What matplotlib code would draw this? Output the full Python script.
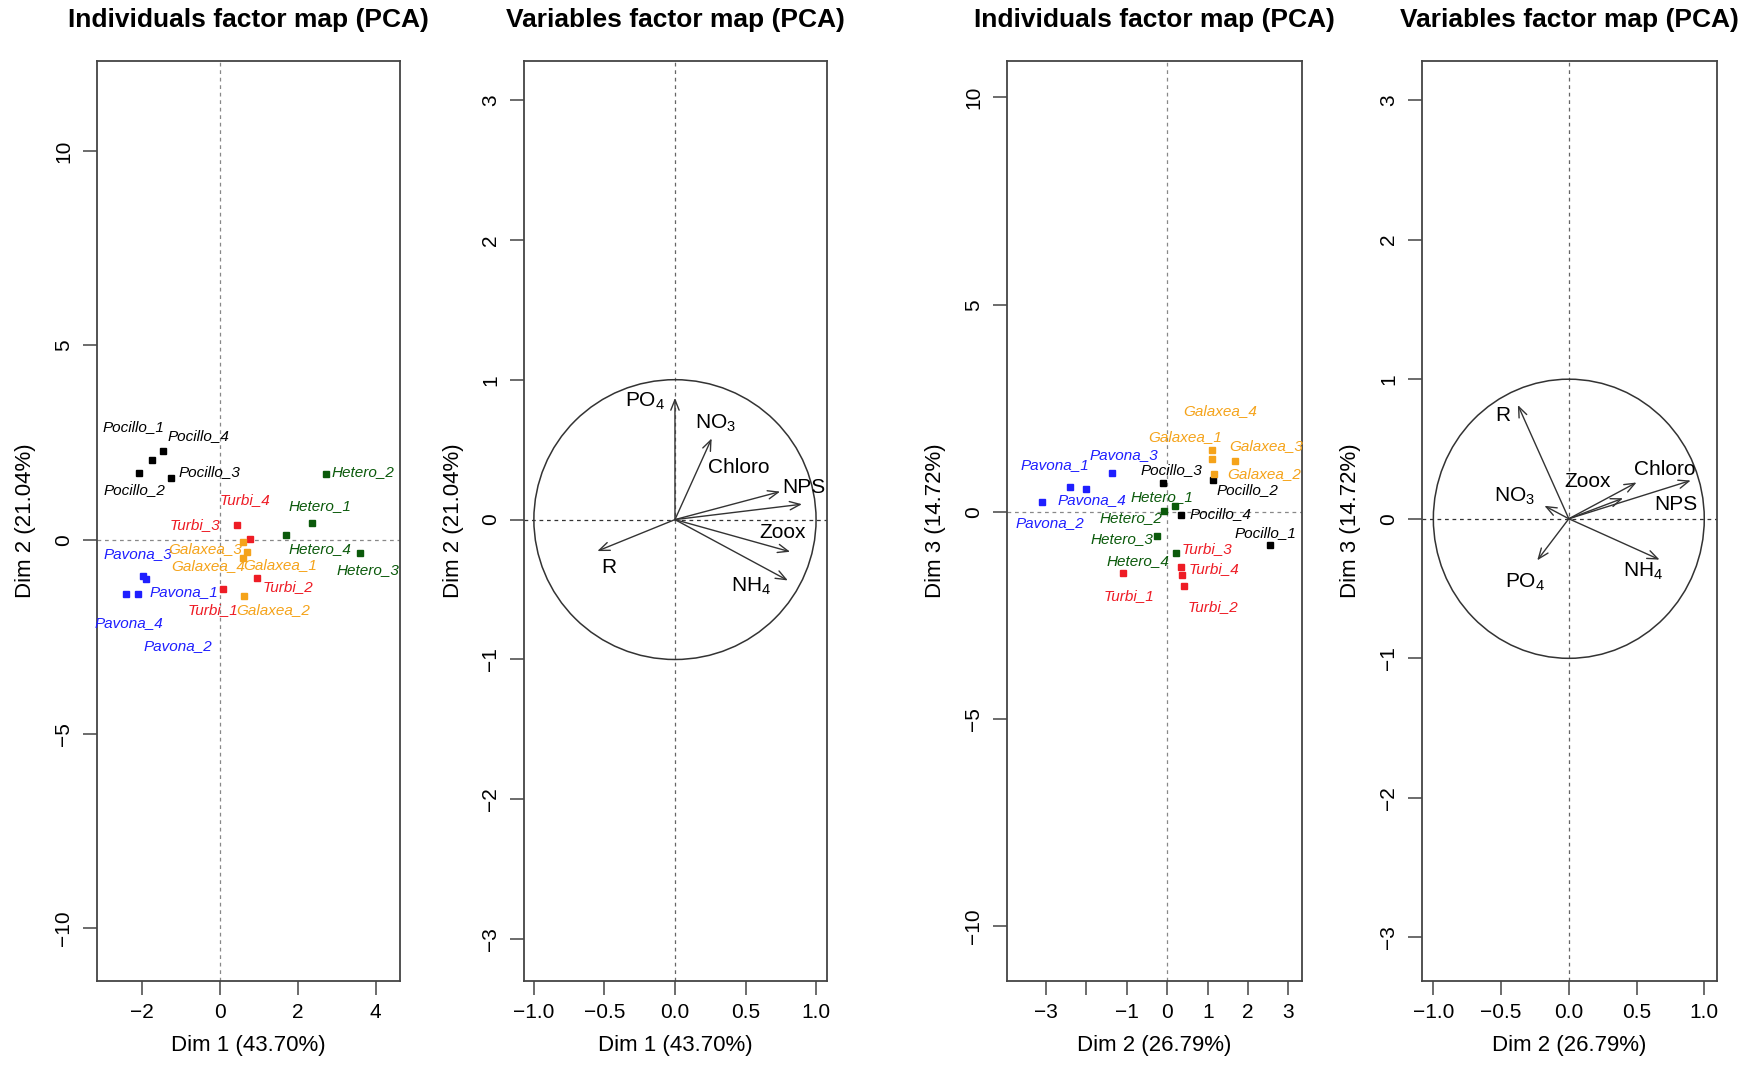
import matplotlib
matplotlib.use("Agg")
from matplotlib import pyplot as plt
from matplotlib.patches import Circle

plt.rcParams['font.family'] = ['Liberation Sans', 'DejaVu Sans']
plt.rcParams['mathtext.default'] = 'regular'

# ---- individuals (order: Pavona, Pocillo, Turbi, Galaxea, Hetero) ----
ind_names = ["Pavona_1", "Pavona_2", "Pavona_3", "Pavona_4",
             "Pocillo_1", "Pocillo_2", "Pocillo_3", "Pocillo_4",
             "Turbi_1", "Turbi_2", "Turbi_3", "Turbi_4",
             "Galaxea_1", "Galaxea_2", "Galaxea_3", "Galaxea_4",
             "Hetero_1", "Hetero_2", "Hetero_3", "Hetero_4"]
ind_group = [n.split("_")[0] for n in ind_names]

# PCA 1 : Dim 1 / Dim 2
pca1_dim1 = [-1.90, -2.10, -1.97, -2.42, -1.76, -2.08, -1.26, -1.47,
             0.09, 0.94, 0.43, 0.77, 0.70, 0.62, 0.60, 0.60,
             2.36, 2.73, 3.60, 1.70]
pca1_dim2 = [-1.02, -1.41, -0.93, -1.41, 2.05, 1.72, 1.60, 2.29,
             -1.28, -0.98, 0.37, 0.03, -0.31, -1.45, -0.06, -0.48,
             0.44, 1.69, -0.33, 0.12]
pca1_lab_x = [-0.94, -1.07, -2.10, -2.33, -2.23, -2.21, -0.28, -0.56,
              -0.19, 1.76, -0.64, 0.64, 1.56, 1.36, -0.39, -0.30,
              2.57, 3.69, 3.80, 2.57]
pca1_lab_y = [-1.34, -2.73, -0.37, -2.14, 2.89, 1.27, 1.73, 2.67,
              -1.80, -1.21, 0.37, 1.02, -0.66, -1.80, -0.23, -0.68,
              0.86, 1.73, -0.77, -0.25]

# PCA 2 : Dim 2 / Dim 3
pca2_dim2 = [-2.40, -3.09, -1.36, -2.01, 2.55, 1.13, -0.11, 0.35,
             -1.09, 0.41, 0.35, 0.37, 1.10, 1.16, 1.68, 1.10,
             0.18, -0.07, -0.25, 0.22]
pca2_dim3 = [0.61, 0.25, 0.93, 0.56, -0.80, 0.77, 0.71, -0.07,
             -1.48, -1.78, -1.34, -1.53, 1.27, 0.91, 1.23, 1.49,
             0.14, 0.02, -0.58, -1.00]
pca2_lab_x = [-2.77, -2.90, -1.08, -1.86, 2.44, 1.99, 0.10, 1.32,
              -0.95, 1.13, 0.99, 1.16, 0.45, 2.40, 2.45, 1.31,
              -0.12, -0.91, -1.12, -0.73]
pca2_lab_y = [1.13, -0.26, 1.37, 0.28, -0.52, 0.52, 1.00, -0.06,
              -2.02, -2.30, -0.90, -1.38, 1.81, 0.91, 1.58, 2.43,
              0.37, -0.14, -0.66, -1.18]

# ---- variables ----
var_names = ["PO$_4$", "NO$_3$", "Chloro", "NPS", "Zoox", "NH$_4$", "R"]
var1_x = [0.00, 0.26, 0.90, 0.745, 0.816, 0.80, -0.55]
var1_y = [0.87, 0.58, 0.11, 0.20, -0.23, -0.435, -0.225]
var1_lab_x = [-0.21, 0.29, 0.45, 0.915, 0.76, 0.54, -0.47]
var1_lab_y = [0.845, 0.69, 0.37, 0.227, -0.095, -0.476, -0.345]

var2_x = [-0.233, -0.18, 0.90, 0.50, 0.40, 0.67, -0.376]
var2_y = [-0.298, 0.093, 0.274, 0.26, 0.147, -0.293, 0.815]
var2_lab_x = [-0.32, -0.40, 0.706, 0.79, 0.14, 0.55, -0.487]
var2_lab_y = [-0.453, 0.16, 0.35, 0.10, 0.267, -0.38, 0.743]

group_colors = {"Pavona": "#1f1fff", "Pocillo": "black", "Turbi": "#ee1c25",
                "Galaxea": "#f5a31a", "Hetero": "#0b5a0b"}

W, H = 1741, 1066
fig = plt.figure(figsize=(W / 100, H / 100), dpi=100)


def make_axes(left, right, top=61, bottom=980.7):
    ax = fig.add_axes([left / W, 1 - bottom / H, (right - left) / W, (bottom - top) / H])
    for s in ax.spines.values():
        s.set_color("#444444")
        s.set_linewidth(1.3)
    ax.tick_params(labelsize=15, length=10, width=1.1, color="#444444", pad=6)
    ax.tick_params(axis='y', labelrotation=90, pad=7)
    return ax


def finish(ax, title, xlabel, ylabel):
    bb = ax.get_position()
    fig.text(bb.x0 + bb.width / 2, 1 - 20 / H, title, ha='center', va='center',
             fontsize=19, fontweight='bold')
    fig.text(bb.x0 + bb.width / 2, 1 - 1046 / H, xlabel, ha='center', va='center', fontsize=16)
    fig.text(bb.x0 - 71 / W, bb.y0 + bb.height / 2, ylabel, ha='center', va='center',
             rotation=90, fontsize=16)
    for lab in ax.get_yticklabels():
        lab.set_va('center')


def individuals(ax, xs, ys, lx, ly):
    ax.axhline(0, color="#888888", lw=0.9, ls=(0, (3, 3)), zorder=0)
    ax.axvline(0, color="#888888", lw=0.9, ls=(0, (3, 3)), zorder=0)
    for n, g, x, y, tx, ty in zip(ind_names, ind_group, xs, ys, lx, ly):
        c = group_colors[g]
        ax.plot(x, y, 's', ms=5, color=c)
        ax.text(tx, ty, n, color=c, fontsize=11, style='italic', ha='center', va='center')


def variables(ax, xs, ys, lx, ly):
    ax.axhline(0, color="#333333", lw=0.9, ls=(0, (3, 3)), zorder=0)
    ax.axvline(0, color="#666666", lw=0.9, ls=(0, (3, 3)), zorder=0)
    ax.add_patch(Circle((0, 0), 1, fill=False, lw=1.1, color="#333333"))
    for n, x, y, tx, ty in zip(var_names, xs, ys, lx, ly):
        ax.annotate("", xy=(x, y), xytext=(0, 0),
                    arrowprops=dict(arrowstyle="->,head_length=0.5,head_width=0.2",
                                    lw=1.0, color="#333333", shrinkA=0, shrinkB=0,
                                    mutation_scale=15))
        ax.text(tx, ty, n, fontsize=15, ha='center', va='center')


# panel 1
ax1 = make_axes(96.7, 400)
individuals(ax1, pca1_dim1, pca1_dim2, pca1_lab_x, pca1_lab_y)
ax1.set_xlim(-3.17, 4.63)
ax1.set_ylim(-11.35, 12.32)
ax1.set_xticks([-2, 0, 2, 4])
ax1.set_yticks([-10, -5, 0, 5, 10])
finish(ax1, "Individuals factor map (PCA)", "Dim 1 (43.70%)", "Dim 2 (21.04%)")

# panel 2
ax2 = make_axes(524, 826.5)
variables(ax2, var1_x, var1_y, var1_lab_x, var1_lab_y)
ax2.set_xlim(-1.07, 1.074)
ax2.set_ylim(-3.296, 3.278)
ax2.set_xticks([-1, -0.5, 0, 0.5, 1])
ax2.set_xticklabels(["\u22121.0", "\u22120.5", "0.0", "0.5", "1.0"])
ax2.set_yticks([-3, -2, -1, 0, 1, 2, 3])
finish(ax2, "Variables factor map (PCA)", "Dim 1 (43.70%)", "Dim 2 (21.04%)")

# panel 3
ax3 = make_axes(1006.7, 1301.7)
individuals(ax3, pca2_dim2, pca2_dim3, pca2_lab_x, pca2_lab_y)
ax3.set_xlim(-3.975, 3.327)
ax3.set_ylim(-11.31, 10.88)
ax3.set_xticks([-3, -2, -1, 0, 1, 2, 3])
ax3.set_xticklabels(["\u22123", "", "\u22121", "0", "1", "2", "3"])
ax3.set_yticks([-10, -5, 0, 5, 10])
finish(ax3, "Individuals factor map (PCA)", "Dim 2 (26.79%)", "Dim 3 (14.72%)")

# panel 4
ax4 = make_axes(1421.7, 1717)
variables(ax4, var2_x, var2_y, var2_lab_x, var2_lab_y)
ax4.set_xlim(-1.086, 1.094)
ax4.set_ylim(-3.31, 3.28)
ax4.set_xticks([-1, -0.5, 0, 0.5, 1])
ax4.set_xticklabels(["\u22121.0", "\u22120.5", "0.0", "0.5", "1.0"])
ax4.set_yticks([-3, -2, -1, 0, 1, 2, 3])
finish(ax4, "Variables factor map (PCA)", "Dim 2 (26.79%)", "Dim 3 (14.72%)")

fig.savefig("out.png", dpi=100)
